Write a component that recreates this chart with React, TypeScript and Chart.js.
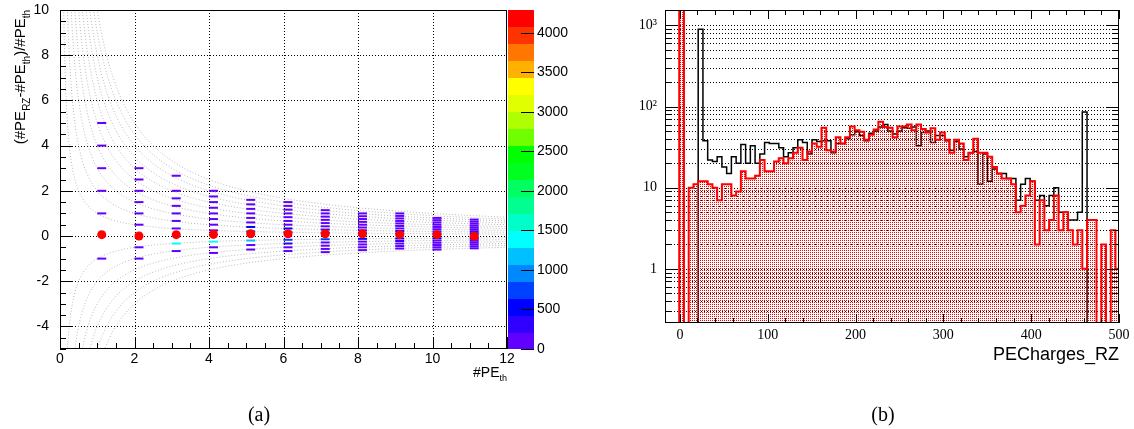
import React, { useEffect, useRef } from 'react';
import { Chart, registerables } from 'chart.js';

Chart.register(...registerables);

// ---------------- Panel (a): relative difference vs #PE_th ----------------
const peThValues = [1, 2, 3, 4, 5, 6, 7, 8, 9, 10, 11];
const peThBinCenters = [1.12, 2.12, 3.12, 4.12, 5.12, 6.12, 7.12, 8.12, 9.12, 10.12, 11.12];
const meanRelDiff = [0.06, 0.0, 0.06, 0.07, 0.1, 0.1, 0.1, 0.1, 0.06, 0.06, -0.01];

// integer differences #PE_RZ - #PE_th that are filled (0 hidden under the mean marker)
const peDiffs = [-6, -5, -4, -3, -2, -1, 1, 2, 3, 4, 5, 6, 7, 8, 9];
const countsPeTh1 = [0, 0, 0, 0, 0, 120, 150, 90, 60, 40, 20, 0, 0, 0, 0];
const countsPeTh2 = [0, 0, 0, 0, 60, 200, 180, 120, 80, 50, 30, 15, 0, 0, 0];
const countsPeTh3 = [0, 0, 0, 0, 90, 1400, 190, 160, 110, 70, 40, 25, 0, 10, 0];
const countsPeTh4 = [0, 0, 0, 40, 150, 1400, 200, 170, 130, 90, 60, 35, 20, 10, 0];
const countsPeTh5 = [0, 0, 0, 60, 190, 1200, 700, 500, 180, 130, 90, 60, 30, 12, 0];
const countsPeTh6 = [0, 0, 20, 80, 300, 700, 400, 600, 190, 150, 110, 70, 40, 25, 10];
const countsPeTh7 = [0, 15, 40, 110, 200, 650, 550, 380, 200, 160, 120, 80, 45, 20, 0];
const countsPeTh8 = [0, 15, 50, 120, 210, 600, 520, 300, 200, 170, 130, 90, 50, 25, 0];
const countsPeTh9 = [0, 20, 60, 130, 300, 550, 480, 250, 200, 170, 140, 100, 60, 30, 12];
const countsPeTh10 = [15, 30, 70, 140, 190, 500, 450, 230, 190, 160, 130, 90, 50, 25, 0];
const countsPeTh11 = [20, 40, 80, 150, 200, 480, 420, 220, 180, 150, 120, 80, 50, 25, 0];
const countsByPeTh = [
  countsPeTh1, countsPeTh2, countsPeTh3, countsPeTh4, countsPeTh5, countsPeTh6,
  countsPeTh7, countsPeTh8, countsPeTh9, countsPeTh10, countsPeTh11,
];

// guide curves of constant difference (#PE_RZ - #PE_th = d)
const guideDiffs = [-6, -5, -4, -3, -2, -1, 1, 2, 3, 4, 5, 6, 7, 8, 9, 10];

const colzMax = 4290;
const colzTicks = [0, 500, 1000, 1500, 2000, 2500, 3000, 3500, 4000];
const colzPalette = [
  '#6000ff', '#3000ff', '#0000ff', '#0040ff', '#0088ff', '#00c0ff', '#00ffff',
  '#00ffc8', '#00ff90', '#00ff60', '#00ff20', '#00ff00', '#70ff00', '#b0ff00',
  '#e0ff00', '#ffff00', '#ffb000', '#ff7700', '#ff3300', '#ff0000',
];

// ---------------- Panel (b): PECharges_RZ histograms ----------------
const histLow = -17;
const histBinWidth = 5.4;
const countsAll = [
  0, 0, 0, 0, 0, 0, 0, 900, 38, 22, 21, 24, 18, 15, 24, 20, 34, 20, 33, 20,
  26, 36, 35, 35, 31, 24, 27, 31, 39, 36, 26, 39, 37, 38, 38, 27, 35, 35, 40, 45,
  49, 44, 38, 47, 50, 56, 60, 50, 46, 50, 55, 54, 56, 33, 48, 50, 36, 44, 44, 38,
  29, 37, 30, 24, 27, 28, 11, 26, 12, 17, 15, 15, 13, 13, 7, 11, 13, 12, 7, 8,
  6, 8, 10, 5, 5, 4, 4, 5, 86, 0, 0, 0, 0, 0, 0, 0,
];
const countsSelected = [
  0, 0, 0, 3000, 0, 10, 11, 12, 12, 11, 10, 7, 11, 11, 8, 9, 16, 13, 13, 14,
  22, 16, 16, 21, 23, 20, 23, 27, 31, 22, 28, 35, 32, 55, 29, 28, 42, 35, 42, 57,
  51, 49, 39, 45, 52, 65, 56, 55, 42, 57, 57, 60, 51, 60, 53, 48, 54, 39, 48, 39,
  27, 39, 35, 22, 27, 40, 27, 27, 24, 18, 15, 13, 13, 11, 5, 6, 8, 12, 2, 7,
  3, 4, 8, 3, 5, 3, 2, 3, 1, 4, 4, 0, 2, 0, 3, 1,
];
const logTickValues = [1, 10, 100, 1000];
const logTickLabels = ['1', '10', '10\u00B2', '10\u00B3'];
const yLogMin = 0.215;
const yLogMax = 1550;

const SANS = '"Liberation Sans", Arial, sans-serif';
const SERIF = '"Liberation Serif", "Times New Roman", serif';

type Part = { t: string; sub?: boolean };

function drawRich(ctx: any, parts: Part[], x: number, y: number, align: string, mainPx: number, subPx: number, family: string) {
  const mainFont = `${mainPx}px ${family}`;
  const subFont = `${subPx}px ${family}`;
  let total = 0;
  const widths: number[] = [];
  for (const p of parts) {
    ctx.font = p.sub ? subFont : mainFont;
    const w = ctx.measureText(p.t).width;
    widths.push(w);
    total += w;
  }
  let cx = align === 'right' ? x - total : align === 'center' ? x - total / 2 : x;
  ctx.textAlign = 'left';
  ctx.textBaseline = 'alphabetic';
  parts.forEach((p, i) => {
    ctx.font = p.sub ? subFont : mainFont;
    ctx.fillText(p.t, cx, p.sub ? y + subPx * 0.45 : y);
    cx += widths[i];
  });
}

function colzColor(count: number) {
  const step = colzMax / colzPalette.length;
  const idx = Math.max(0, Math.min(colzPalette.length - 1, Math.floor(count / step)));
  return colzPalette[idx];
}

const fitV = (w: number) => (s: any) => { s.width = w; s.paddingTop = 0; s.paddingBottom = 0; };
const fitH = (h: number) => (s: any) => { s.height = h; s.paddingLeft = 0; s.paddingRight = 0; };
const noGrid = { display: false, drawTicks: false, tickLength: 0 };

const panelAPlugin = {
  id: 'panelA',
  beforeDatasetsDraw(chart: any) {
    const { ctx, chartArea: a } = chart;
    const x = chart.scales.x;
    const y = chart.scales.y;
    ctx.save();
    ctx.strokeStyle = '#000';
    ctx.lineWidth = 1;
    ctx.setLineDash([1, 2]);
    ctx.beginPath();
    for (const t of x.ticks) {
      const px = Math.round(x.getPixelForValue(t.value)) + 0.5;
      if (px <= a.left + 1 || px >= a.right - 1) continue;
      ctx.moveTo(px, a.top);
      ctx.lineTo(px, a.bottom);
    }
    for (const t of y.ticks) {
      const py = Math.round(y.getPixelForValue(t.value)) + 0.5;
      if (py <= a.top + 1 || py >= a.bottom - 1) continue;
      ctx.moveTo(a.left, py);
      ctx.lineTo(a.right, py);
    }
    ctx.stroke();
    ctx.restore();
  },
  afterDatasetsDraw(chart: any) {
    const { ctx, chartArea: a } = chart;
    const x = chart.scales.x;
    const y = chart.scales.y;
    ctx.save();
    ctx.strokeStyle = '#000';
    ctx.lineWidth = 1;
    ctx.setLineDash([]);
    ctx.strokeRect(a.left + 0.5, a.top + 0.5, a.right - a.left - 1, a.bottom - a.top - 1);
    ctx.beginPath();
    for (let v = x.min; v <= x.max + 1e-9; v += 0.5) {
      const px = Math.round(x.getPixelForValue(v)) + 0.5;
      const len = Math.abs(v % 2) < 1e-9 ? 12 : 6;
      ctx.moveTo(px, a.bottom);
      ctx.lineTo(px, a.bottom - len);
    }
    for (let v = y.min; v <= y.max + 1e-9; v += 0.5) {
      const py = Math.round(y.getPixelForValue(v)) + 0.5;
      const len = Math.abs(v % 2) < 1e-9 ? 12 : 6;
      ctx.moveTo(a.left, py);
      ctx.lineTo(a.left + len, py);
    }
    ctx.stroke();
    ctx.restore();
  },
  afterDraw(chart: any) {
    const { ctx, chartArea: a } = chart;
    const z = chart.scales.z;
    ctx.save();
    // colour bar
    const barL = a.right + 1;
    const barW = 26;
    const step = colzMax / colzPalette.length;
    colzPalette.forEach((c, i) => {
      const y0 = z.getPixelForValue(i * step);
      const y1 = z.getPixelForValue((i + 1) * step);
      ctx.fillStyle = c;
      ctx.fillRect(barL, Math.floor(y1), barW, Math.ceil(y0) - Math.floor(y1));
    });
    ctx.strokeStyle = '#000';
    ctx.lineWidth = 1;
    ctx.beginPath();
    for (const t of z.ticks) {
      const py = Math.round(z.getPixelForValue(t.value)) + 0.5;
      ctx.moveTo(barL + barW - 13, py);
      ctx.lineTo(barL + barW, py);
    }
    ctx.stroke();
    // axis titles
    ctx.fillStyle = '#000';
    drawRich(ctx, [{ t: '#PE' }, { t: 'th', sub: true }], a.right, 377, 'right', 14, 9, SANS);
    ctx.translate(25, a.top);
    ctx.rotate(-Math.PI / 2);
    drawRich(
      ctx,
      [{ t: '(#PE' }, { t: 'RZ', sub: true }, { t: '-#PE' }, { t: 'th', sub: true }, { t: ')/#PE' }, { t: 'th', sub: true }],
      0, 0, 'right', 15, 10, SANS,
    );
    ctx.setTransform(1, 0, 0, 1, 0, 0);
    ctx.font = `20px ${SERIF}`;
    ctx.textAlign = 'center';
    ctx.textBaseline = 'alphabetic';
    ctx.fillText('(a)', 259, 421);
    ctx.restore();
  },
};

const panelBPlugin = {
  id: 'panelB',
  beforeDatasetsDraw(chart: any) {
    const { ctx, chartArea: a } = chart;
    const y = chart.scales.y;
    ctx.save();
    ctx.strokeStyle = '#000';
    ctx.lineWidth = 1;
    ctx.setLineDash([1, 2]);
    ctx.beginPath();
    for (let e = -1; e <= 3; e++) {
      for (let m = 1; m <= 9; m++) {
        const v = m * Math.pow(10, e);
        if (v <= y.min || v >= y.max) continue;
        const py = Math.round(y.getPixelForValue(v)) + 0.5;
        ctx.moveTo(a.left, py);
        ctx.lineTo(a.right, py);
      }
    }
    ctx.stroke();
    ctx.restore();
  },
  afterDatasetsDraw(chart: any) {
    const { ctx, chartArea: a } = chart;
    const x = chart.scales.x;
    const y = chart.scales.y;
    ctx.save();
    ctx.strokeStyle = '#000';
    ctx.lineWidth = 1;
    ctx.setLineDash([]);
    ctx.strokeRect(a.left + 0.5, a.top + 0.5, a.right - a.left - 1, a.bottom - a.top - 1);
    ctx.beginPath();
    for (let e = -1; e <= 3; e++) {
      for (let m = 1; m <= 9; m++) {
        const v = m * Math.pow(10, e);
        if (v <= y.min || v >= y.max) continue;
        const py = Math.round(y.getPixelForValue(v)) + 0.5;
        const len = m === 1 ? 12 : 6;
        ctx.moveTo(a.left, py);
        ctx.lineTo(a.left + len, py);
        ctx.moveTo(a.right, py);
        ctx.lineTo(a.right - len, py);
      }
    }
    for (let v = 0; v <= x.max + 1e-9; v += 20) {
      const px = Math.round(x.getPixelForValue(v)) + 0.5;
      const len = v % 100 === 0 ? 9 : 5;
      ctx.moveTo(px, a.bottom);
      ctx.lineTo(px, a.bottom - len);
      ctx.moveTo(px, a.top);
      ctx.lineTo(px, a.top + len);
    }
    ctx.stroke();
    ctx.restore();
  },
  afterDraw(chart: any) {
    const { ctx, chartArea: a } = chart;
    ctx.save();
    ctx.fillStyle = '#000';
    ctx.font = `18px ${SANS}`;
    ctx.textAlign = 'right';
    ctx.textBaseline = 'alphabetic';
    ctx.fillText('PECharges_RZ', a.right, 360);
    ctx.font = `20px ${SERIF}`;
    ctx.textAlign = 'center';
    ctx.fillText('(b)', 283, 421);
    ctx.restore();
  },
};

function buildLeft(canvas: HTMLCanvasElement) {
  const cellPts: { x: number; y: number }[] = [];
  const cellColors: string[] = [];
  countsByPeTh.forEach((row, i) => {
    row.forEach((cnt, j) => {
      if (cnt > 0) {
        cellPts.push({ x: peThBinCenters[i], y: peDiffs[j] / peThValues[i] });
        cellColors.push(colzColor(cnt));
      }
    });
  });
  const meanPts = peThBinCenters.map((x, i) => ({ x, y: meanRelDiff[i] }));
  const guideSets = guideDiffs.map((d) => {
    const x0 = d > 0 ? d / 10.3 : -d / 5.2;
    const pts: { x: number; y: number }[] = [];
    const N = 160;
    for (let k = 0; k <= N; k++) {
      const xv = x0 * Math.pow(12 / x0, k / N);
      pts.push({ x: xv, y: d / xv });
    }
    return {
      data: pts, showLine: true, pointRadius: 0, borderColor: '#b8b8b8', borderWidth: 1,
      borderDash: [1, 2], fill: false, order: 3,
    };
  });
  return new Chart(canvas, {
    type: 'scatter',
    data: {
      datasets: [
        ...guideSets,
        {
          data: cellPts, pointStyle: 'line', pointRadius: 4.5, pointBorderWidth: 2,
          pointBorderColor: cellColors, pointBackgroundColor: cellColors, order: 2,
        },
        {
          data: meanPts, pointStyle: 'circle', pointRadius: 4.5, pointBorderWidth: 0,
          pointBackgroundColor: '#ff0000', pointBorderColor: '#ff0000', order: 1,
        },
      ],
    } as any,
    options: {
      responsive: false,
      animation: false,
      events: [],
      layout: { padding: { top: 10, left: 0, right: 0, bottom: 0 } },
      plugins: { legend: { display: false }, tooltip: { enabled: false } },
      scales: {
        x: {
          type: 'linear', position: 'bottom', min: 0, max: 12,
          grid: noGrid, border: { display: false },
          ticks: { stepSize: 2, includeBounds: false, color: '#000', font: { family: SANS, size: 14 }, padding: 2, maxRotation: 0, autoSkip: false },
          afterFit: fitH(80),
        },
        y: {
          type: 'linear', position: 'left', min: -5, max: 10,
          grid: noGrid, border: { display: false },
          ticks: { stepSize: 2, includeBounds: false, color: '#000', font: { family: SANS, size: 14 }, padding: 11, autoSkip: false },
          afterFit: fitV(60),
        },
        z: {
          type: 'linear', position: 'right', min: 0, max: colzMax,
          grid: noGrid, border: { display: false },
          afterBuildTicks: (s: any) => { s.ticks = colzTicks.map((v) => ({ value: v })); },
          ticks: { color: '#000', font: { family: SANS, size: 14 }, padding: 30, autoSkip: false, callback: (v: any) => String(v) },
          afterFit: fitV(93),
        },
      },
    } as any,
    plugins: [panelAPlugin],
  });
}

function buildRight(canvas: HTMLCanvasElement) {
  const toPts = (arr: number[]) => {
    const pts = arr.map((v, k) => ({ x: histLow + histBinWidth * k, y: v > 0 ? v : yLogMin }));
    const last = arr[arr.length - 1];
    pts.push({ x: histLow + histBinWidth * arr.length, y: last > 0 ? last : yLogMin });
    return pts;
  };
  const pc = document.createElement('canvas');
  pc.width = 2;
  pc.height = 2;
  const pctx = pc.getContext('2d')!;
  pctx.fillStyle = '#ff0000';
  pctx.fillRect(0, 0, 1, 1);
  const pattern = canvas.getContext('2d')!.createPattern(pc, 'repeat');
  return new Chart(canvas, {
    type: 'line',
    data: {
      datasets: [
        {
          data: toPts(countsAll), stepped: 'before', borderColor: '#000000', borderWidth: 1.5,
          pointRadius: 0, fill: false, order: 1,
        },
        {
          data: toPts(countsSelected), stepped: 'before', borderColor: '#ff0000', borderWidth: 2,
          pointRadius: 0, fill: 'start', backgroundColor: pattern, order: 0,
        },
      ],
    } as any,
    options: {
      responsive: false,
      animation: false,
      events: [],
      layout: { padding: { top: 10, right: 15, left: 0, bottom: 0 } },
      plugins: { legend: { display: false }, tooltip: { enabled: false } },
      scales: {
        x: {
          type: 'linear', position: 'bottom', min: histLow, max: 500,
          grid: noGrid, border: { display: false },
          ticks: { stepSize: 100, includeBounds: false, color: '#000', font: { family: SERIF, size: 14 }, padding: 4, maxRotation: 0, autoSkip: false },
          afterFit: fitH(106),
        },
        y: {
          type: 'logarithmic', position: 'left', min: yLogMin, max: yLogMax,
          grid: noGrid, border: { display: false },
          afterBuildTicks: (s: any) => { s.ticks = logTickValues.map((v) => ({ value: v })); },
          ticks: {
            autoSkip: false, color: '#000', font: { family: SERIF, size: 14 }, padding: 8,
            callback: (v: any) => {
              const i = logTickValues.indexOf(Number(v));
              return i >= 0 ? logTickLabels[i] : '';
            },
          },
          afterFit: fitV(65),
        },
      },
    } as any,
    plugins: [panelBPlugin],
  });
}

export default function App() {
  const leftRef = useRef<HTMLCanvasElement>(null);
  const rightRef = useRef<HTMLCanvasElement>(null);
  useEffect(() => {
    const charts: Chart[] = [];
    if (leftRef.current) charts.push(buildLeft(leftRef.current));
    if (rightRef.current) charts.push(buildRight(rightRef.current));
    return () => charts.forEach((c) => c.destroy());
  }, []);
  return (
    <div style={{ position: 'absolute', left: 0, top: 0, width: 1134, height: 429, background: '#fff', overflow: 'hidden' }}>
      <canvas ref={leftRef} width={600} height={429} style={{ position: 'absolute', left: 0, top: 0, width: 600, height: 429 }} />
      <canvas ref={rightRef} width={534} height={429} style={{ position: 'absolute', left: 600, top: 0, width: 534, height: 429 }} />
    </div>
  );
}
